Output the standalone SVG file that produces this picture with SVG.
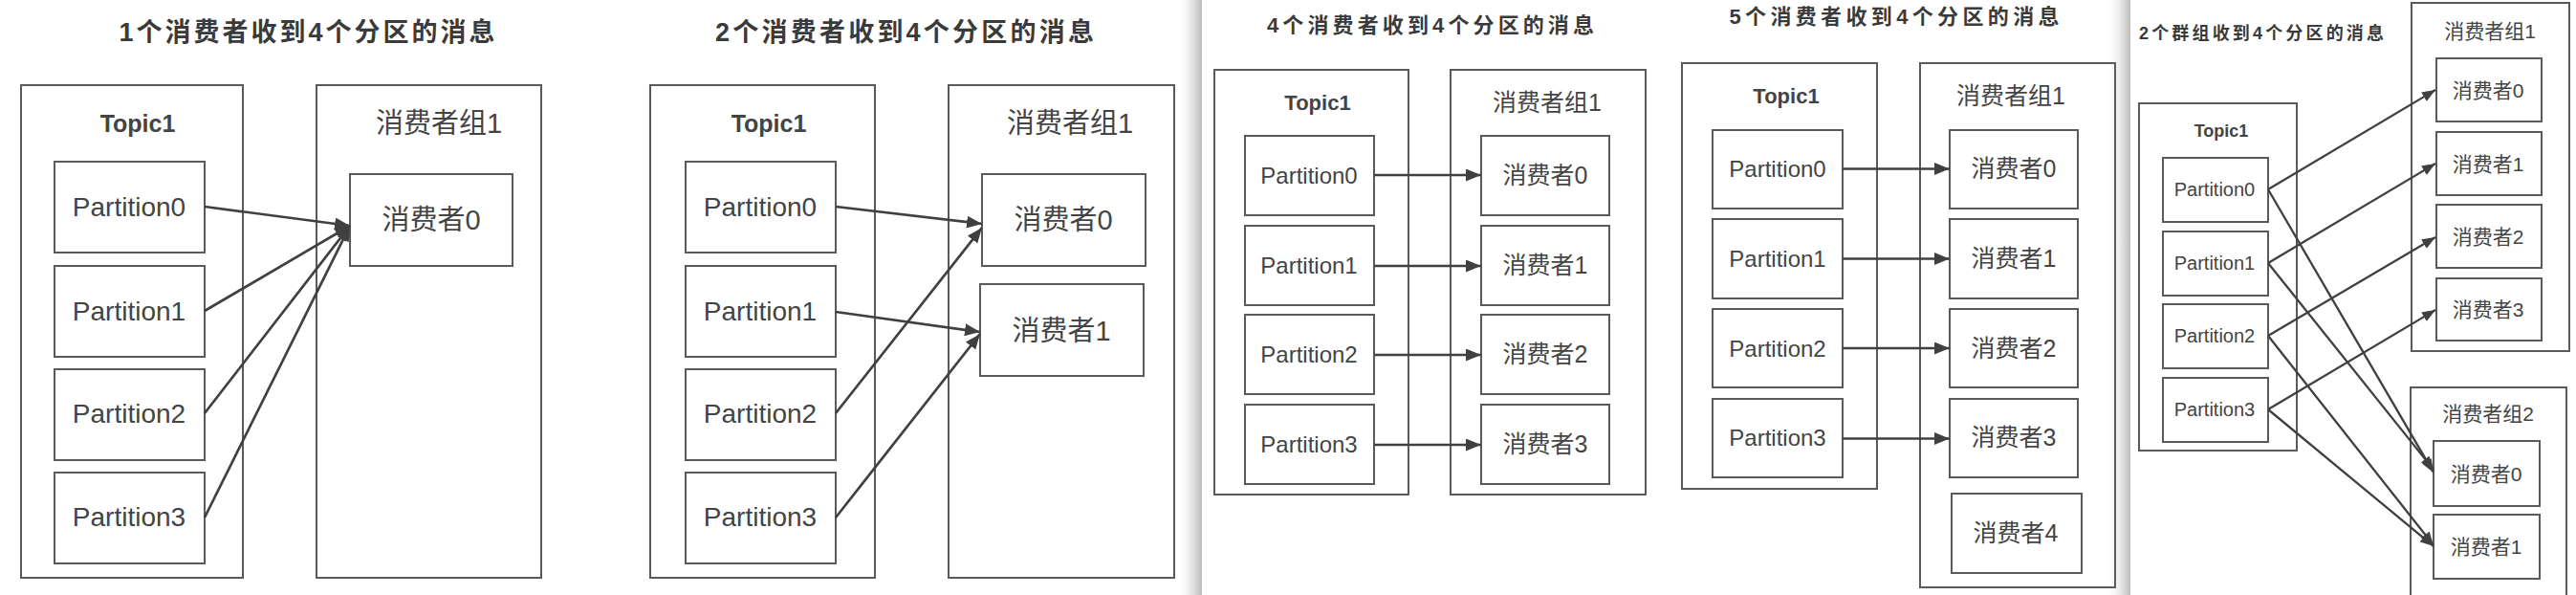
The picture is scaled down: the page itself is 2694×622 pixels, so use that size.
<svg xmlns="http://www.w3.org/2000/svg" width="2694" height="622" viewBox="0 0 2694 622">
<defs>
<linearGradient id="shade" x1="0" y1="0" x2="1" y2="0">
<stop offset="0" stop-color="#ffffff" stop-opacity="0"/>
<stop offset="0.7" stop-color="#dcdcdc"/>
<stop offset="1" stop-color="#bdbdbd"/>
</linearGradient>
<marker id="ah" markerUnits="userSpaceOnUse" markerWidth="18" markerHeight="14" refX="16" refY="6.5" orient="auto" viewBox="0 0 18 14">
<path d="M0,0 L16,6.5 L0,13 z" fill="#404040"/>
</marker>
<marker id="ahs" markerUnits="userSpaceOnUse" markerWidth="16" markerHeight="12" refX="14" refY="5.5" orient="auto" viewBox="0 0 16 12">
<path d="M0,0 L14,5.5 L0,11 z" fill="#404040"/>
</marker>
</defs>
<style>
rect.b{fill:#fff;stroke:#5a5a5a;stroke-width:2}
rect.c{fill:none;stroke:#5a5a5a;stroke-width:2}
text{font-family:"Liberation Sans","Noto Sans CJK SC",sans-serif;fill:#444;text-anchor:middle;dominant-baseline:central}
.t{font-weight:bold;fill:#3a3a3a}
.h{font-weight:bold}
.p1{font-size:28px}
.p3{font-size:24px}
.p5{font-size:20px}
.l1{font-size:29px}
.l3{font-size:25px}
.l5{font-size:21px}
line.a{stroke:#404040;stroke-width:2.7;marker-end:url(#ah)}
line.s{stroke:#404040;stroke-width:2.3;marker-end:url(#ahs)}
</style>
<rect x="0" y="0" width="2694" height="622" fill="#fff"/>
<rect x="1230" y="0" width="27" height="622" fill="url(#shade)"/>
<rect x="2203" y="0" width="25" height="622" fill="url(#shade)"/>

<!-- Panel 1 -->
<g id="p1-title"><text class="t" x="321" y="34" font-size="27" textLength="393" lengthAdjust="spacing">1个消费者收到4个分区的消息</text></g>
<g id="p1-topic"><rect class="c" x="22" y="89" width="232" height="515"/><text class="h" x="144" y="129" font-size="25">Topic1</text></g>
<g id="p1-part0"><rect class="b" x="57" y="169" width="157" height="95"/><text class="p1" x="135" y="216">Partition0</text></g>
<g id="p1-part1"><rect class="b" x="57" y="278" width="157" height="95"/><text class="p1" x="135" y="325">Partition1</text></g>
<g id="p1-part2"><rect class="b" x="57" y="386" width="157" height="95"/><text class="p1" x="135" y="432">Partition2</text></g>
<g id="p1-part3"><rect class="b" x="57" y="494" width="157" height="95"/><text class="p1" x="135" y="540">Partition3</text></g>
<g id="p1-group"><rect class="c" x="331" y="89" width="235" height="515"/><text class="l1" x="459" y="129">消费者组1</text></g>
<g id="p1-c0"><rect class="b" x="366" y="182" width="170" height="96"/><text class="l1" x="451" y="230">消费者0</text></g>

<!-- Panel 2 -->
<g id="p2-title"><text class="t" x="946" y="34" font-size="27" textLength="396" lengthAdjust="spacing">2个消费者收到4个分区的消息</text></g>
<g id="p2-topic"><rect class="c" x="680" y="89" width="235" height="515"/><text class="h" x="804" y="129" font-size="25">Topic1</text></g>
<g id="p2-part0"><rect class="b" x="717" y="169" width="157" height="95"/><text class="p1" x="795" y="216">Partition0</text></g>
<g id="p2-part1"><rect class="b" x="717" y="278" width="157" height="95"/><text class="p1" x="795" y="325">Partition1</text></g>
<g id="p2-part2"><rect class="b" x="717" y="386" width="157" height="95"/><text class="p1" x="795" y="432">Partition2</text></g>
<g id="p2-part3"><rect class="b" x="717" y="494" width="157" height="95"/><text class="p1" x="795" y="540">Partition3</text></g>
<g id="p2-group"><rect class="c" x="992" y="89" width="236" height="515"/><text class="l1" x="1119" y="129">消费者组1</text></g>
<g id="p2-c0"><rect class="b" x="1027" y="182" width="171" height="96"/><text class="l1" x="1112" y="230">消费者0</text></g>
<g id="p2-c1"><rect class="b" x="1025" y="297" width="171" height="96"/><text class="l1" x="1110" y="346">消费者1</text></g>

<!-- Panel 3 -->
<g id="p3-title"><text class="t" x="1496" y="26" font-size="22" textLength="342" lengthAdjust="spacing">4个消费者收到4个分区的消息</text></g>
<g id="p3-topic"><rect class="c" x="1270" y="73" width="203" height="444"/><text class="h" x="1378" y="107" font-size="22">Topic1</text></g>
<g id="p3-part0"><rect class="b" x="1302" y="142" width="135" height="83"/><text class="p3" x="1369" y="183">Partition0</text></g>
<g id="p3-part1"><rect class="b" x="1302" y="236" width="135" height="83"/><text class="p3" x="1369" y="277">Partition1</text></g>
<g id="p3-part2"><rect class="b" x="1302" y="329" width="135" height="83"/><text class="p3" x="1369" y="370">Partition2</text></g>
<g id="p3-part3"><rect class="b" x="1302" y="423" width="135" height="83"/><text class="p3" x="1369" y="464">Partition3</text></g>
<g id="p3-group"><rect class="c" x="1517" y="73" width="204" height="444"/><text class="l3" x="1618" y="107">消费者组1</text></g>
<g id="p3-c0"><rect class="b" x="1549" y="142" width="134" height="83"/><text class="l3" x="1616" y="183">消费者0</text></g>
<g id="p3-c1"><rect class="b" x="1549" y="236" width="134" height="83"/><text class="l3" x="1616" y="277">消费者1</text></g>
<g id="p3-c2"><rect class="b" x="1549" y="329" width="134" height="83"/><text class="l3" x="1616" y="370">消费者2</text></g>
<g id="p3-c3"><rect class="b" x="1549" y="423" width="134" height="83"/><text class="l3" x="1616" y="464">消费者3</text></g>

<!-- Panel 4 -->
<g id="p4-title"><text class="t" x="1981" y="17" font-size="22" textLength="345" lengthAdjust="spacing">5个消费者收到4个分区的消息</text></g>
<g id="p4-topic"><rect class="c" x="1759" y="66" width="204" height="445"/><text class="h" x="1868" y="100" font-size="22">Topic1</text></g>
<g id="p4-part0"><rect class="b" x="1791" y="136" width="136" height="82"/><text class="p3" x="1859" y="176">Partition0</text></g>
<g id="p4-part1"><rect class="b" x="1791" y="229" width="136" height="83"/><text class="p3" x="1859" y="270">Partition1</text></g>
<g id="p4-part2"><rect class="b" x="1791" y="323" width="136" height="82"/><text class="p3" x="1859" y="364">Partition2</text></g>
<g id="p4-part3"><rect class="b" x="1791" y="417" width="136" height="82"/><text class="p3" x="1859" y="457">Partition3</text></g>
<g id="p4-group"><rect class="c" x="2008" y="66" width="204" height="548"/><text class="l3" x="2103" y="100">消费者组1</text></g>
<g id="p4-c0"><rect class="b" x="2039" y="136" width="134" height="82"/><text class="l3" x="2106" y="176">消费者0</text></g>
<g id="p4-c1"><rect class="b" x="2039" y="229" width="134" height="83"/><text class="l3" x="2106" y="270">消费者1</text></g>
<g id="p4-c2"><rect class="b" x="2039" y="323" width="134" height="82"/><text class="l3" x="2106" y="364">消费者2</text></g>
<g id="p4-c3"><rect class="b" x="2039" y="417" width="134" height="82"/><text class="l3" x="2106" y="457">消费者3</text></g>
<g id="p4-c4"><rect class="b" x="2041" y="516" width="136" height="83"/><text class="l3" x="2108" y="557">消费者4</text></g>

<!-- Panel 5 -->
<g id="p5-title"><text class="t" x="2365" y="35" font-size="18" textLength="256" lengthAdjust="spacing">2个群组收到4个分区的消息</text></g>
<g id="p5-topic"><rect class="c" x="2237" y="108" width="165" height="363"/><text class="h" x="2323" y="137" font-size="18">Topic1</text></g>
<g id="p5-part0"><rect class="b" x="2262" y="165" width="110" height="67"/><text class="p5" x="2316" y="198">Partition0</text></g>
<g id="p5-part1"><rect class="b" x="2262" y="242" width="110" height="67"/><text class="p5" x="2316" y="275">Partition1</text></g>
<g id="p5-part2"><rect class="b" x="2262" y="318" width="110" height="67"/><text class="p5" x="2316" y="351">Partition2</text></g>
<g id="p5-part3"><rect class="b" x="2262" y="395" width="110" height="67"/><text class="p5" x="2316" y="428">Partition3</text></g>
<g id="p5-group1"><rect class="c" x="2522" y="3" width="165" height="364"/><text class="l5" x="2604" y="32">消费者组1</text></g>
<g id="p5-g1c0"><rect class="b" x="2548" y="61" width="110" height="66"/><text class="l5" x="2602" y="94">消费者0</text></g>
<g id="p5-g1c1"><rect class="b" x="2548" y="138" width="110" height="66"/><text class="l5" x="2602" y="171">消费者1</text></g>
<g id="p5-g1c2"><rect class="b" x="2548" y="214" width="110" height="66"/><text class="l5" x="2602" y="247">消费者2</text></g>
<g id="p5-g1c3"><rect class="b" x="2548" y="291" width="110" height="65"/><text class="l5" x="2602" y="323">消费者3</text></g>
<g id="p5-group2"><rect class="c" x="2521" y="405" width="163" height="225"/><text class="l5" x="2602" y="432">消费者组2</text></g>
<g id="p5-g2c0"><rect class="b" x="2545" y="461" width="111" height="68"/><text class="l5" x="2600" y="495">消费者0</text></g>
<g id="p5-g2c1"><rect class="b" x="2545" y="538" width="111" height="67"/><text class="l5" x="2600" y="571">消费者1</text></g>

<g id="connectors">
<line class="a" x1="214" y1="216" x2="366" y2="236"/>
<line class="a" x1="214" y1="325" x2="366" y2="236"/>
<line class="a" x1="214" y1="432" x2="366" y2="236"/>
<line class="a" x1="214" y1="541" x2="366" y2="236"/>

<line class="a" x1="874" y1="216" x2="1027" y2="234"/>
<line class="a" x1="874" y1="432" x2="1027" y2="238"/>
<line class="a" x1="874" y1="326" x2="1025" y2="347"/>
<line class="a" x1="874" y1="541" x2="1025" y2="349"/>

<line class="a" x1="1437" y1="183" x2="1549" y2="183"/>
<line class="a" x1="1437" y1="278" x2="1549" y2="278"/>
<line class="a" x1="1437" y1="371" x2="1549" y2="371"/>
<line class="a" x1="1437" y1="465" x2="1549" y2="465"/>

<line class="a" x1="1927" y1="176.5" x2="2039" y2="176.5"/>
<line class="a" x1="1927" y1="270.5" x2="2039" y2="270.5"/>
<line class="a" x1="1927" y1="364" x2="2039" y2="364"/>
<line class="a" x1="1927" y1="458.5" x2="2039" y2="458.5"/>

<line class="s" x1="2372" y1="198" x2="2547" y2="94"/>
<line class="s" x1="2372" y1="198" x2="2545" y2="494"/>
<line class="s" x1="2372" y1="275" x2="2547" y2="171"/>
<line class="s" x1="2372" y1="275" x2="2545" y2="491"/>
<line class="s" x1="2372" y1="351" x2="2547" y2="248"/>
<line class="s" x1="2372" y1="351" x2="2545" y2="570"/>
<line class="s" x1="2372" y1="428" x2="2547" y2="324"/>
<line class="s" x1="2372" y1="428" x2="2545" y2="571"/>
</g>
</svg>
